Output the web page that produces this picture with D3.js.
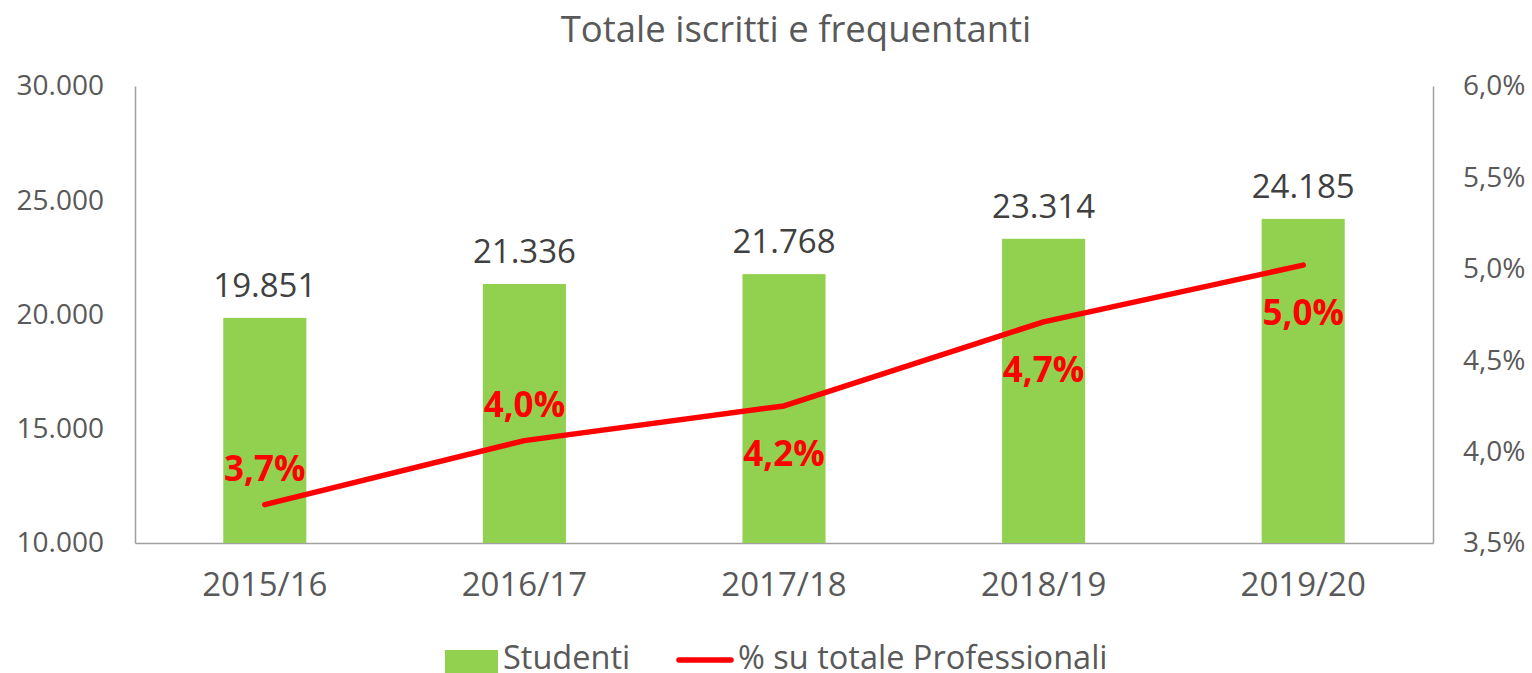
<!DOCTYPE html>
<html>
<head>
<meta charset="utf-8">
<script src="https://cdn.jsdelivr.net/npm/d3@7"></script>
<style>
  body { margin: 0; background: #fff; }
  svg text { font-family: "Open Sans", sans-serif; }
</style>
</head>
<body>
<div id="chart"></div>
<script>
// Data
const years = ["2015/16", "2016/17", "2017/18", "2018/19", "2019/20"];
const studenti = [19851, 21336, 21768, 23314, 24185];
const percentuali = [3.71, 4.06, 4.25, 4.71, 5.02];
const pctLabels = ["3,7%", "4,0%", "4,2%", "4,7%", "5,0%"];
const leftTicks = [10000, 15000, 20000, 25000, 30000];
const rightTicks = [3.5, 4.0, 4.5, 5.0, 5.5, 6.0];
// label above (-1) or below (+1) the line point
const pctLabelSide = [-1, -1, 1, 1, 1];

const width = 1532, height = 673;
const margin = { top: 86, right: 99, bottom: 130, left: 135 };
const innerW = width - margin.left - margin.right;
const innerH = height - margin.top - margin.bottom;

const svg = d3.select("#chart").append("svg")
  .attr("width", width)
  .attr("height", height);

const g = svg.append("g")
  .attr("transform", "translate(" + margin.left + "," + margin.top + ")");

const x = d3.scaleBand().domain(years).range([0, innerW]).paddingInner(0.68).paddingOuter(0.34);
const yL = d3.scaleLinear().domain([10000, 30000]).range([innerH, 0]);
const yR = d3.scaleLinear().domain([3.5, 6.0]).range([innerH, 0]);

const fmtThousands = d => d3.format(",")(d).replace(/,/g, ".");
const fmtPct = d => d.toFixed(1).replace(".", ",") + "%";

// Axes
const axisColor = "#a0a0a0";
const tickColor = "#595959";

const leftAxis = g.append("g")
  .call(d3.axisLeft(yL).tickValues(leftTicks).tickFormat(fmtThousands).tickSize(0).tickPadding(31));
const rightAxis = g.append("g")
  .attr("transform", "translate(" + innerW + ",0)")
  .call(d3.axisRight(yR).tickValues(rightTicks).tickFormat(fmtPct).tickSize(0).tickPadding(30));
const bottomAxis = g.append("g")
  .attr("transform", "translate(0," + innerH + ")")
  .call(d3.axisBottom(x).tickSize(0).tickPadding(30));

[leftAxis, rightAxis, bottomAxis].forEach(a => {
  a.select(".domain").attr("stroke", axisColor).attr("stroke-width", 1.5);
  a.selectAll("text").attr("fill", tickColor).style("font-size", "28px");
});
bottomAxis.selectAll("text").style("font-size", "33px");

// Bars
g.selectAll("rect.bar")
  .data(studenti)
  .enter()
  .append("rect")
  .attr("class", "bar")
  .attr("x", (d, i) => x(years[i]))
  .attr("y", d => yL(d))
  .attr("width", x.bandwidth())
  .attr("height", d => innerH - yL(d))
  .attr("fill", "#92d050");

// Bar value labels
g.selectAll("text.barlabel")
  .data(studenti)
  .enter()
  .append("text")
  .attr("class", "barlabel")
  .attr("x", (d, i) => x(years[i]) + x.bandwidth() / 2)
  .attr("y", d => yL(d) - 21)
  .attr("text-anchor", "middle")
  .attr("fill", "#404040")
  .style("font-size", "33px")
  .text(fmtThousands);

// Percentage line
const line = d3.line()
  .x((d, i) => x(years[i]) + x.bandwidth() / 2)
  .y(d => yR(d));

g.append("path")
  .datum(percentuali)
  .attr("d", line)
  .attr("fill", "none")
  .attr("stroke", "#ff0000")
  .attr("stroke-width", 5.5)
  .attr("stroke-linecap", "round")
  .attr("stroke-linejoin", "round");

// Percentage labels
g.selectAll("text.pctlabel")
  .data(percentuali)
  .enter()
  .append("text")
  .attr("class", "pctlabel")
  .attr("x", (d, i) => x(years[i]) + x.bandwidth() / 2)
  .attr("y", (d, i) => yR(d) + (pctLabelSide[i] < 0 ? -24 : 60))
  .attr("text-anchor", "middle")
  .attr("fill", "#ff0000")
  .attr("font-weight", "bold")
  .style("font-size", "35px")
  .text((d, i) => pctLabels[i]);

// Title
svg.append("text")
  .attr("x", 796)
  .attr("y", 42)
  .attr("text-anchor", "middle")
  .attr("fill", tickColor)
  .style("font-size", "36.5px")
  .text("Totale iscritti e frequentanti");

// Legend
const legend = svg.append("g");
legend.append("rect")
  .attr("x", 445).attr("y", 650)
  .attr("width", 53).attr("height", 23)
  .attr("fill", "#92d050");
legend.append("text")
  .attr("x", 503).attr("y", 669)
  .attr("fill", tickColor)
  .style("font-size", "32.5px")
  .text("Studenti");
legend.append("line")
  .attr("x1", 679).attr("x2", 731)
  .attr("y1", 660).attr("y2", 660)
  .attr("stroke", "#ff0000")
  .attr("stroke-width", 5.5)
  .attr("stroke-linecap", "round");
legend.append("text")
  .attr("x", 738).attr("y", 669)
  .attr("fill", tickColor)
  .style("font-size", "32.5px")
  .text("% su totale Professionali");
</script>
</body>
</html>
